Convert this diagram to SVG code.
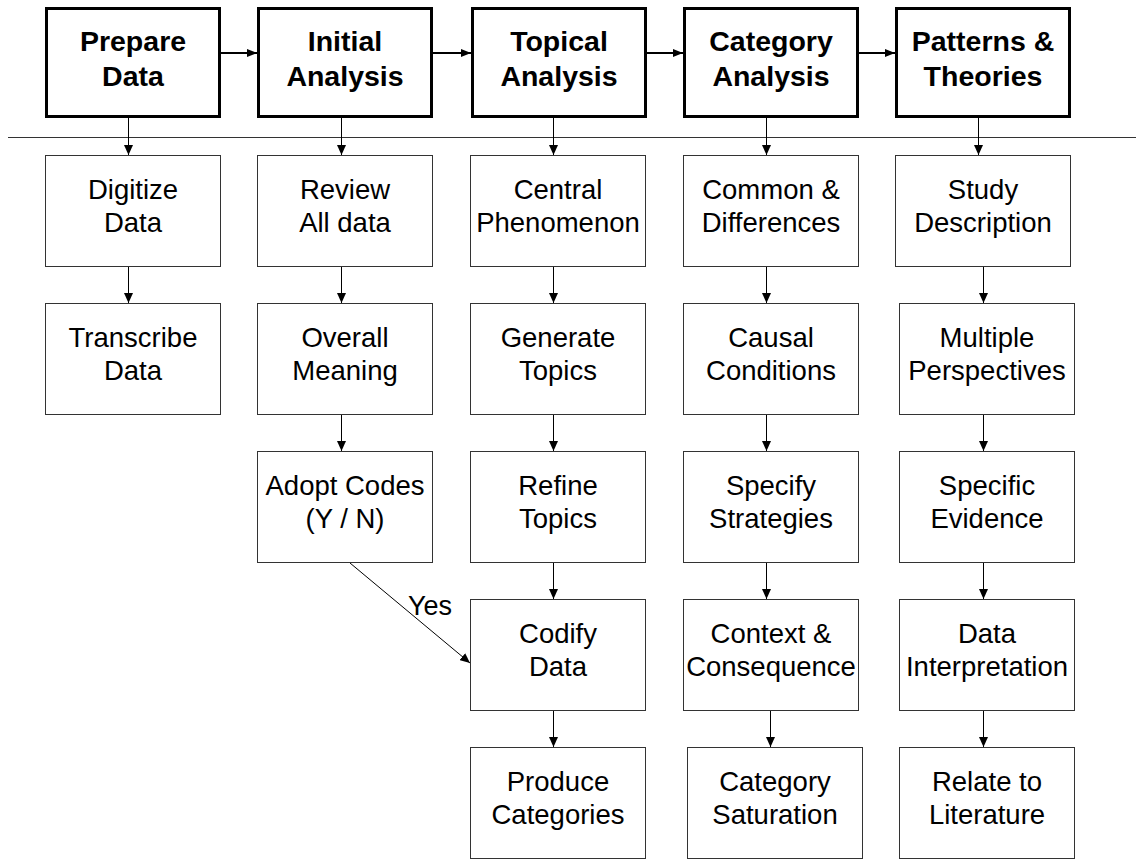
<svg xmlns="http://www.w3.org/2000/svg" width="1136" height="859" viewBox="0 0 1136 859">
<style>
.hdr rect{fill:#fff;stroke:#000;stroke-width:3}
.hdr text{font-family:"Liberation Sans",Arial,sans-serif;font-weight:bold;font-size:28.5px;text-anchor:middle;fill:#000}
.box rect{fill:#fff;stroke:#333;stroke-width:1}
.box text{font-family:"Liberation Sans",Arial,sans-serif;font-size:27.5px;text-anchor:middle;fill:#000}
.conn line{stroke:#000;stroke-width:1;fill:none}
.conn line.thick{stroke-width:2}
.lbl{font-family:"Liberation Sans",Arial,sans-serif;font-size:27px;fill:#000}
</style>
<defs>
<marker id="ah" markerUnits="userSpaceOnUse" markerWidth="10" markerHeight="9" refX="10" refY="4.5" orient="auto"><path d="M0,0 L10,4.5 L0,9 z" fill="#000"/></marker>
<marker id="ah2" markerUnits="userSpaceOnUse" markerWidth="10" markerHeight="8" refX="10" refY="4" orient="auto"><path d="M0,0 L10,4 L0,8 z" fill="#000"/></marker>
</defs>
<rect width="1136" height="859" fill="#fff"/>
<line x1="8" y1="137.5" x2="1136" y2="137.5" stroke="#333" stroke-width="1"/>

<g id="connectors" class="conn">
<line class="thick" x1="221" y1="53" x2="257" y2="53" marker-end="url(#ah2)"/>
<line class="thick" x1="433" y1="53" x2="471" y2="53" marker-end="url(#ah2)"/>
<line class="thick" x1="646" y1="53" x2="683" y2="53" marker-end="url(#ah2)"/>
<line class="thick" x1="859" y1="53" x2="895" y2="53" marker-end="url(#ah2)"/>
<line x1="128.5" y1="118" x2="128.5" y2="155" marker-end="url(#ah)"/>
<line x1="341.5" y1="118" x2="341.5" y2="155" marker-end="url(#ah)"/>
<line x1="553.5" y1="118" x2="553.5" y2="155" marker-end="url(#ah)"/>
<line x1="766.5" y1="118" x2="766.5" y2="155" marker-end="url(#ah)"/>
<line x1="978.5" y1="118" x2="978.5" y2="155" marker-end="url(#ah)"/>
<line x1="128.5" y1="267" x2="128.5" y2="303" marker-end="url(#ah)"/>
<line x1="341.5" y1="267" x2="341.5" y2="303" marker-end="url(#ah)"/>
<line x1="341.5" y1="415" x2="341.5" y2="451" marker-end="url(#ah)"/>
<line x1="553.5" y1="267" x2="553.5" y2="303" marker-end="url(#ah)"/>
<line x1="553.5" y1="415" x2="553.5" y2="451" marker-end="url(#ah)"/>
<line x1="553.5" y1="563" x2="553.5" y2="599" marker-end="url(#ah)"/>
<line x1="553.5" y1="711" x2="553.5" y2="747" marker-end="url(#ah)"/>
<line x1="766.5" y1="267" x2="766.5" y2="303" marker-end="url(#ah)"/>
<line x1="766.5" y1="415" x2="766.5" y2="451" marker-end="url(#ah)"/>
<line x1="766.5" y1="563" x2="766.5" y2="599" marker-end="url(#ah)"/>
<line x1="770.5" y1="711" x2="770.5" y2="747" marker-end="url(#ah)"/>
<line x1="983.5" y1="267" x2="983.5" y2="303" marker-end="url(#ah)"/>
<line x1="983.5" y1="415" x2="983.5" y2="451" marker-end="url(#ah)"/>
<line x1="983.5" y1="563" x2="983.5" y2="599" marker-end="url(#ah)"/>
<line x1="983.5" y1="711" x2="983.5" y2="747" marker-end="url(#ah)"/>
<line x1="350" y1="563" x2="470" y2="663" marker-end="url(#ah)"/>
<text class="lbl" x="408" y="615">Yes</text>
</g>

<g id="h1" class="hdr"><rect x="46.5" y="8.5" width="173" height="108"/><text x="133" y="51">Prepare</text><text x="133" y="86">Data</text></g>
<g id="h2" class="hdr"><rect x="258.5" y="8.5" width="173" height="108"/><text x="345" y="51">Initial</text><text x="345" y="86">Analysis</text></g>
<g id="h3" class="hdr"><rect x="472.5" y="8.5" width="173" height="108"/><text x="559" y="51">Topical</text><text x="559" y="86">Analysis</text></g>
<g id="h4" class="hdr"><rect x="684.5" y="8.5" width="173" height="108"/><text x="771" y="51">Category</text><text x="771" y="86">Analysis</text></g>
<g id="h5" class="hdr"><rect x="896.5" y="8.5" width="173" height="108"/><text x="983" y="51">Patterns &amp;</text><text x="983" y="86">Theories</text></g>

<g id="n1a" class="box"><rect x="45.5" y="155.5" width="175" height="111"/><text x="133" y="199">Digitize</text><text x="133" y="232">Data</text></g>
<g id="n1b" class="box"><rect x="45.5" y="303.5" width="175" height="111"/><text x="133" y="347">Transcribe</text><text x="133" y="380">Data</text></g>

<g id="n2a" class="box"><rect x="257.5" y="155.5" width="175" height="111"/><text x="345" y="199">Review</text><text x="345" y="232">All data</text></g>
<g id="n2b" class="box"><rect x="257.5" y="303.5" width="175" height="111"/><text x="345" y="347">Overall</text><text x="345" y="380">Meaning</text></g>
<g id="n2c" class="box"><rect x="257.5" y="451.5" width="175" height="111"/><text x="345" y="495">Adopt Codes</text><text x="345" y="528">(Y / N)</text></g>

<g id="n3a" class="box"><rect x="470.5" y="155.5" width="175" height="111"/><text x="558" y="199">Central</text><text x="558" y="232">Phenomenon</text></g>
<g id="n3b" class="box"><rect x="470.5" y="303.5" width="175" height="111"/><text x="558" y="347">Generate</text><text x="558" y="380">Topics</text></g>
<g id="n3c" class="box"><rect x="470.5" y="451.5" width="175" height="111"/><text x="558" y="495">Refine</text><text x="558" y="528">Topics</text></g>
<g id="n3d" class="box"><rect x="470.5" y="599.5" width="175" height="111"/><text x="558" y="643">Codify</text><text x="558" y="676">Data</text></g>
<g id="n3e" class="box"><rect x="470.5" y="747.5" width="175" height="111"/><text x="558" y="791">Produce</text><text x="558" y="824">Categories</text></g>

<g id="n4a" class="box"><rect x="683.5" y="155.5" width="175" height="111"/><text x="771" y="199">Common &amp;</text><text x="771" y="232">Differences</text></g>
<g id="n4b" class="box"><rect x="683.5" y="303.5" width="175" height="111"/><text x="771" y="347">Causal</text><text x="771" y="380">Conditions</text></g>
<g id="n4c" class="box"><rect x="683.5" y="451.5" width="175" height="111"/><text x="771" y="495">Specify</text><text x="771" y="528">Strategies</text></g>
<g id="n4d" class="box"><rect x="683.5" y="599.5" width="175" height="111"/><text x="771" y="643">Context &amp;</text><text x="771" y="676">Consequence</text></g>
<g id="n4e" class="box"><rect x="687.5" y="747.5" width="175" height="111"/><text x="775" y="791">Category</text><text x="775" y="824">Saturation</text></g>

<g id="n5a" class="box"><rect x="895.5" y="155.5" width="175" height="111"/><text x="983" y="199">Study</text><text x="983" y="232">Description</text></g>
<g id="n5b" class="box"><rect x="899.5" y="303.5" width="175" height="111"/><text x="987" y="347">Multiple</text><text x="987" y="380">Perspectives</text></g>
<g id="n5c" class="box"><rect x="899.5" y="451.5" width="175" height="111"/><text x="987" y="495">Specific</text><text x="987" y="528">Evidence</text></g>
<g id="n5d" class="box"><rect x="899.5" y="599.5" width="175" height="111"/><text x="987" y="643">Data</text><text x="987" y="676">Interpretation</text></g>
<g id="n5e" class="box"><rect x="899.5" y="747.5" width="175" height="111"/><text x="987" y="791">Relate to</text><text x="987" y="824">Literature</text></g>
</svg>
